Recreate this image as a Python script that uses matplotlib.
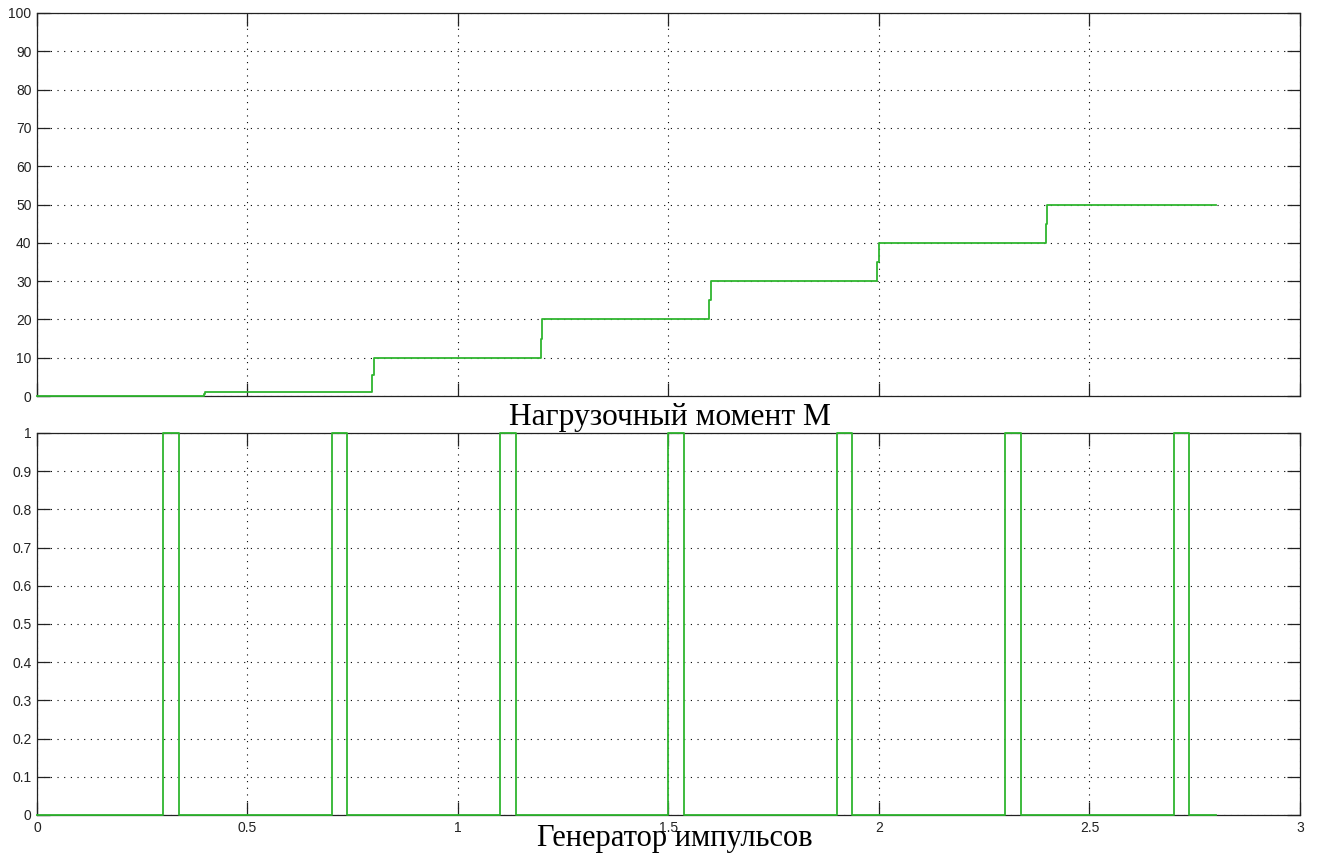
import matplotlib
matplotlib.use('Agg')
import matplotlib.pyplot as plt

# load torque M: step times and values (one intermediate sample at each step)
m_t = [0.0, 0.396, 0.4, 0.796, 0.8, 1.196, 1.2, 1.596, 1.6, 1.996, 2.0, 2.396, 2.4, 2.8]
m_v = [0, 0.5, 1, 5.5, 10, 15, 20, 25, 30, 35, 40, 45, 50, 50]

# pulse generator: rising / falling edges
p_t = [0.0, 0.3, 0.337, 0.7, 0.737, 1.1, 1.137, 1.5, 1.537,
       1.9, 1.937, 2.3, 2.337, 2.7, 2.737, 2.8]
p_v = [0, 1, 0, 1, 0, 1, 0, 1, 0, 1, 0, 1, 0, 1, 0, 0]

x_ticks = [0, 0.5, 1, 1.5, 2, 2.5, 3]
x_labels = ['0', '0.5', '1', '1.5', '2', '2.5', '3']
m_ticks = list(range(0, 101, 10))
p_ticks = [i / 10 for i in range(11)]
p_labels = ['0'] + ['0.%d' % i for i in range(1, 10)] + ['1']

title_top = 'Нагрузочный момент M'
title_bottom = 'Генератор импульсов'

green = '#2fb52f'
tick_font = ['Liberation Sans', 'DejaVu Sans']

fig = plt.figure(figsize=(13.19, 8.58), dpi=100)
ax1 = fig.add_axes([0.02805, 0.53846, 0.95754, 0.44639])
ax2 = fig.add_axes([0.02805, 0.05012, 0.95754, 0.44522])


def style(ax):
    ax.set_xlim(0, 3)
    ax.grid(True, color='black', linestyle=(0, (1, 5)), linewidth=0.8)
    ax.tick_params(direction='in', length=9.5, width=0.9, top=True, right=True,
                   colors='#222222', labelsize=10, pad=4)
    for lab in ax.get_xticklabels() + ax.get_yticklabels():
        lab.set_family(tick_font)
    for s in ax.spines.values():
        s.set_color('#222222')
        s.set_linewidth(0.9)


ax1.step(m_t, m_v, where='post', color=green, lw=1.3, clip_on=False, zorder=5)
ax1.set_ylim(0, 100)
ax1.set_yticks(m_ticks)
ax1.set_xticks(x_ticks)
ax1.set_xticklabels([])
style(ax1)

ax2.step(p_t, p_v, where='post', color=green, lw=1.3, clip_on=False, zorder=5)
ax2.set_ylim(0, 1)
ax2.set_yticks(p_ticks)
ax2.set_yticklabels(p_labels)
ax2.set_xticks(x_ticks)
ax2.set_xticklabels(x_labels)
style(ax2)

fig.text(0.5076, 1 - 425 / 858, title_top, family='Liberation Serif',
         fontsize=22.7, ha='center', va='baseline')
fig.text(0.5118, 1 - 846 / 858, title_bottom, family='Liberation Serif',
         fontsize=22, ha='center', va='baseline')

fig.savefig('out.png', dpi=100)
